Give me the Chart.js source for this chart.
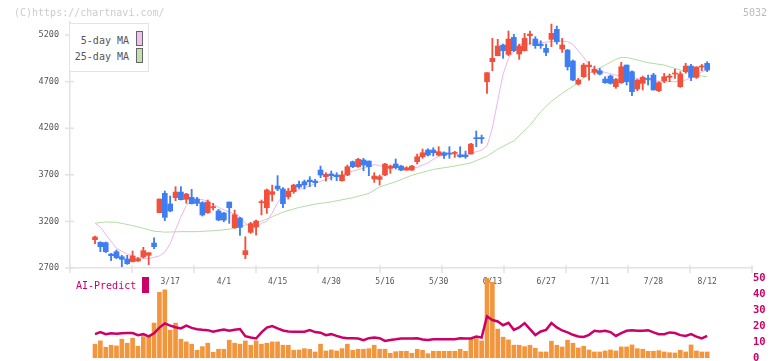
<!DOCTYPE html>
<html>
<head>
<meta charset="utf-8">
<title>5032</title>
<script src="https://cdn.jsdelivr.net/npm/chart.js"></script>
<style>
  body { margin: 0; background: #fff; overflow: hidden; }
  #wrap { position: relative; width: 772px; height: 361px; font-family: 'DejaVu Sans Mono', monospace; }
  canvas { position: absolute; left: 0; top: 0; }
  .txt { position: absolute; font-size: 10px; line-height: 12px; white-space: nowrap; }
  .sw { position: absolute; width: 7px; height: 15px; box-sizing: border-box; border: 1px solid #666; }
</style>
</head>
<body>
<div id="wrap">
  <canvas id="price" width="772" height="361"></canvas>
  <canvas id="sub" width="772" height="361"></canvas>
  <div class="txt" style="left:14px;top:7px;color:#ccc">(C)https://chartnavi.com/</div>
  <div class="txt" style="right:5px;top:7px;color:#bbb">5032</div>
  <div style="position:absolute;left:69px;top:23px;width:80px;height:49px;border:1.5px solid #e4e4e4;box-sizing:border-box;background:#fff"></div>
  <div class="txt" style="right:643px;top:35px;color:#555">5-day MA</div>
  <div class="txt" style="right:643px;top:51px;color:#555">25-day MA</div>
  <div class="sw" style="left:136px;top:31px;background:#f0c0f0"></div>
  <div class="sw" style="left:136px;top:48px;background:#c0e0b0"></div>
  <div class="txt" style="left:76px;top:280px;color:#cc0066">AI-Predict</div>
  <div style="position:absolute;left:142px;top:277px;width:7px;height:16px;background:#cc0066"></div>
</div>
<script>
// trading days, 2025
const dates = ['2/25','2/26','2/27','2/28',
  '3/3','3/4','3/5','3/6','3/7','3/10','3/11','3/12','3/13','3/14','3/17','3/18','3/19','3/21',
  '3/24','3/25','3/26','3/27','3/28','3/31',
  '4/1','4/2','4/3','4/4','4/7','4/8','4/9','4/10','4/11','4/14','4/15','4/16','4/17','4/18',
  '4/21','4/22','4/23','4/24','4/25','4/28','4/30',
  '5/1','5/2','5/7','5/8','5/9','5/12','5/13','5/14','5/15','5/16','5/19','5/20','5/21','5/22','5/23',
  '5/26','5/27','5/28','5/29','5/30',
  '6/2','6/3','6/4','6/5','6/6','6/9','6/10','6/11','6/12','6/13','6/16','6/17','6/18','6/19','6/20',
  '6/23','6/24','6/25','6/26','6/27','6/30',
  '7/1','7/2','7/3','7/4','7/7','7/8','7/9','7/10','7/11','7/14','7/15','7/16','7/17','7/18',
  '7/22','7/23','7/24','7/25','7/28','7/29','7/30','7/31',
  '8/1','8/4','8/5','8/6','8/7','8/8','8/12'];
const tickDates = ['3/17','4/1','4/15','4/30','5/16','5/30','6/13','6/27','7/11','7/28','8/12'];
const priceTicks = [2700, 3200, 3700, 4200, 4700, 5200];

const open = [3004,2975,2972,2850,2875,2821,2796,2768,2775,2818, 2836,2968,3294,3501,3387,3455,3515,3437,3458,3440,
  3401,3294,3347,3312,3290,3408,3133,3236,2843,3083, 3140,3401,3347,3490,3580,3548,3465,3519,3598,3626,
  3644,3633,3751,3680,3709,3698,3637,3698,3841,3787, 3859,3848,3655,3651,3698,3769,3816,3794,3751,3751,
  3841,3894,3966,3966,3912,3937,3930,3930,3912,3912, 3923,4095,4098,4699,4914,4978,5093,4993,5175,4996,
  5032,5193,5157,5103,5057,5154,5261,5050,5039,4921, 4674,4753,4860,4799,4817,4728,4760,4646,4689,4878,
  4807,4621,4681,4735,4771,4603,4710,4746,4782,4646, 4807,4867,4746,4857,4896];
const high = [3043,2982,2979,2857,2893,2836,2836,2882,2811,2922, 2864,3025,3440,3526,3472,3573,3573,3501,3544,3458,
  3412,3430,3394,3329,3297,3408,3322,3244,3036,3190, 3215,3430,3548,3590,3691,3562,3555,3598,3633,3644,
  3680,3651,3794,3723,3741,3723,3741,3805,3848,3877, 3877,3848,3723,3698,3823,3805,3870,3801,3787,3801,
  3923,3977,3980,3991,4002,3948,4002,3952,4002,3955, 4038,4170,4127,4796,5164,5154,5103,5243,5207,5103,
  5218,5243,5182,5139,5103,5318,5297,5164,5046,4932, 4735,4896,4914,4867,4842,4753,4771,4735,4907,4878,
  4817,4724,4760,4771,4789,4699,4789,4782,4835,4807, 4896,4885,4860,4885,4914];
const low = [2961,2875,2864,2779,2800,2714,2739,2764,2771,2807, 2736,2907,3294,3208,3304,3422,3430,3394,3387,3369,
  3258,3286,3322,3208,3197,3179,3126,3050,2800,3072, 3054,3269,3286,3419,3530,3347,3440,3501,3555,3548,
  3573,3573,3669,3633,3644,3637,3633,3691,3777,3780, 3744,3691,3619,3590,3691,3716,3762,3744,3748,3748,
  3816,3877,3902,3902,3902,3877,3877,3887,3887,3877, 3923,4002,4038,4574,4817,4978,4950,4978,5021,4939,
  5028,5103,5057,5057,4978,5075,5103,5014,4824,4710, 4664,4746,4717,4778,4771,4681,4674,4628,4681,4664,
  4549,4603,4610,4664,4610,4592,4689,4699,4735,4638, 4789,4710,4735,4817,4807];
const close = [3033,2929,2875,2832,2811,2793,2746,2829,2800,2886, 2864,2929,3440,3244,3312,3515,3433,3494,3390,3394,
  3269,3408,3358,3215,3215,3347,3272,3136,2886,3176, 3204,3412,3537,3519,3548,3390,3526,3590,3569,3590,
  3626,3616,3698,3705,3691,3680,3698,3787,3787,3866, 3805,3787,3687,3680,3816,3794,3777,3751,3776,3794,
  3894,3937,3912,3937,3948,3909,3923,3937,3894,3894, 4030,4088,4088,4796,4950,5082,5032,5157,5032,5082,
  5164,5211,5086,5086,5014,5218,5128,5093,4860,4717, 4717,4878,4878,4832,4782,4689,4681,4724,4860,4699,
  4592,4717,4746,4724,4610,4689,4753,4760,4789,4782, 4867,4746,4857,4867,4824];

// moving averages (day index -> value)
const ma5Idx = [0,1,2,4,6,8,10,12,13,14, 15,16,17,18,19,21,22,23,25,27, 28,29,30,31,32,33,34,35,36,38,
  40,42,44,46,48,50,52,53,54,56, 57,58,60,62,64,66,68,70,72,73, 74,75,76,77,78,79,81,83,85,86,
  88,89,90,91,92,93,94,95,97,99, 101,103,104,106,108,109,110,112,113,114];
const ma5Val = [3180,3140,3060,2910,2850,2810,2800,2830,2870,2960, 3110,3250,3370,3420,3445,3420,3385,3350,3300,3250,
  3180,3140,3130,3180,3200,3290,3400,3480,3515,3540, 3580,3630,3670,3700,3740,3770,3810,3800,3780,3790,
  3775,3765,3780,3830,3900,3925,3915,3930,3965,4010, 4200,4500,4780,4950,5030,5100,5105,5118,5130,5140,
  5130,5100,5030,4960,4880,4830,4810,4800,4770,4750, 4735,4720,4710,4700,4700,4706,4717,4770,4805,4825];
const ma25Idx = [0,2,4,7,9,11,13,16,19,22, 24,26,28,30,33,35,38,41,44,48, 51,53,56,59,63,67,70,73,75,78,
  81,83,85,87,90,92,95,97,98,99, 101,103,106,108,111,113,114];
const ma25Val = [3180,3195,3190,3155,3126,3095,3085,3090,3090,3100, 3110,3125,3160,3180,3250,3300,3350,3385,3410,3455,
  3500,3570,3625,3695,3758,3794,3828,3900,3975,4065, 4230,4377,4490,4574,4690,4789,4878,4939,4960,4960,
  4932,4903,4878,4842,4789,4760,4753];

// volume (relative units) and AI-Predict score
const volume = [137,170,107,127,120,187,147,197,117,213, 220,347,653,677,277,347,187,160,137,77,
  113,147,57,87,87,177,147,137,170,127, 170,137,147,160,160,127,127,77,80,93,
  87,60,137,70,80,70,93,137,77,87, 87,93,127,87,87,47,63,67,67,47,
  87,77,43,67,67,67,67,67,87,67, 187,193,170,797,753,287,207,180,127,127,
  113,127,97,60,60,167,127,110,177,147, 100,117,80,60,60,70,80,70,110,110,
  130,93,87,67,67,73,60,53,50,77, 60,130,70,60,60];
const aiPredict = [14.9,16.2,14.9,15.5,15.1,15.5,15.6,15.6,14.3,14.9, 13.5,15.5,19.0,21.6,20.2,19.2,18.5,20.2,18.8,18.0,
  17.6,17.4,16.4,17.2,17.8,17.0,17.6,18.1,13.6,12.8, 12.2,16.0,19.0,20.0,18.5,17.2,16.6,16.4,16.4,16.4,
  17.4,16.2,15.8,14.3,14.9,13.8,12.8,12.4,12.4,12.2, 11.1,12.4,12.8,12.4,10.7,11.3,11.7,12.2,12.2,12.2,
  12.4,11.6,11.3,11.7,11.7,11.7,11.7,11.7,12.4,12.2, 12.2,13.4,12.8,26.0,23.7,22.8,20.5,22.0,17.6,19.1,
  21.8,18.1,14.3,16.6,17.6,21.8,19.1,17.2,16.0,14.5, 13.5,13.2,14.5,17.0,16.6,17.0,16.2,13.8,15.6,17.0,
  17.4,17.0,17.0,17.4,16.0,14.9,14.9,16.0,15.6,14.3, 13.8,14.9,13.4,12.2,13.8];

const UP = '#f0503c', DOWN = '#3f7ef0';
const xMin = -4.655, xMax = 122.35;
const axisColor = '#e2e2e2';

Chart.defaults.font.family = "'DejaVu Sans Mono', monospace";
Chart.defaults.animation = false;

const candleColor = close.map((c, i) => c >= open[i] ? UP : DOWN);
const wicks = low.map((l, i) => ({ x: i, y: [l, high[i]] }));
const bodies = open.map((o, i) => ({ x: i, y: [o, close[i]] }));

// small tick marks that cross the axis lines, plus the date labels under the x axis
const axisDecor = {
    id: 'axisDecor',
    afterDraw(chart) {
        const { ctx, chartArea: a } = chart;
        const x = chart.scales.x, y = chart.scales.y;
        ctx.save();
        ctx.strokeStyle = axisColor;
        ctx.lineWidth = 1.5;
        for (let k = 0; k <= 11; k++) {
            const px = x.getPixelForValue(xMin + k * (xMax - xMin) / 11);
            ctx.beginPath(); ctx.moveTo(px, a.bottom - 3); ctx.lineTo(px, a.bottom + 5); ctx.stroke();
        }
        y.ticks.forEach(t => {
            const py = y.getPixelForValue(t.value);
            ctx.beginPath(); ctx.moveTo(a.left - 5, py); ctx.lineTo(a.left + 4, py); ctx.stroke();
        });
        ctx.fillStyle = '#555';
        ctx.font = "8px 'DejaVu Sans Mono'";
        ctx.textAlign = 'center';
        ctx.textBaseline = 'middle';
        tickDates.forEach(d => {
            ctx.fillText(d, x.getPixelForValue(dates.indexOf(d)), a.bottom + 14);
        });
        ctx.restore();
    }
};

new Chart(document.getElementById('price'), {
    type: 'bar',
    data: {
        datasets: [{
            type: 'line',
            label: '25-day MA',
            data: ma25Idx.map((d, k) => ({ x: d, y: ma25Val[k] })),
            borderColor: '#b4dca4',
            borderWidth: 1,
            pointRadius: 0,
            order: 4
        }, {
            type: 'line',
            label: '5-day MA',
            data: ma5Idx.map((d, k) => ({ x: d, y: ma5Val[k] })),
            borderColor: '#ebb6eb',
            borderWidth: 1,
            pointRadius: 0,
            order: 3
        }, {
            label: 'wick',
            data: wicks,
            backgroundColor: candleColor,
            barThickness: 1.2,
            grouped: false,
            order: 2
        }, {
            label: 'body',
            data: bodies,
            backgroundColor: candleColor,
            barThickness: 5,
            minBarLength: 1,
            grouped: false,
            order: 1
        }]
    },
    options: {
        responsive: false,
        layout: { padding: { left: 0, right: 20, top: 22, bottom: 93 } },
        plugins: { legend: { display: false }, tooltip: { enabled: false } },
        scales: {
            x: {
                type: 'linear', min: xMin, max: xMax, offset: false,
                grid: { display: false, drawTicks: false, offset: false },
                border: { display: true, color: axisColor, width: 1.5 },
                ticks: { display: false },
                afterFit: s => { s.height = 0; }
            },
            y: {
                min: 2700, max: 5340,
                grid: { display: false, drawTicks: false },
                border: { display: true, color: axisColor, width: 1.5 },
                ticks: { color: '#555', font: { size: 8.5 }, padding: 11, callback: v => String(v) },
                afterBuildTicks: s => { s.ticks = priceTicks.map(v => ({ value: v })); },
                afterFit: s => { s.width = 70; }
            }
        }
    },
    plugins: [axisDecor]
});

new Chart(document.getElementById('sub'), {
    type: 'bar',
    data: {
        datasets: [{
            type: 'line',
            label: 'AI-Predict',
            data: aiPredict.map((v, i) => ({ x: i, y: v })),
            borderColor: '#cc0066',
            borderWidth: 2.5,
            pointRadius: 0,
            yAxisID: 'ai',
            order: 0
        }, {
            label: 'volume',
            data: volume.map((v, i) => ({ x: i, y: v })),
            backgroundColor: '#f2963e',
            barThickness: 4,
            order: 1
        }]
    },
    options: {
        responsive: false,
        layout: { padding: { left: 70, right: 0, top: 278, bottom: 3 } },
        plugins: { legend: { display: false }, tooltip: { enabled: false } },
        scales: {
            x: { type: 'linear', min: xMin, max: xMax, offset: false, grid: { offset: false }, display: false },
            y: { display: false, min: 0, max: 795 },
            ai: {
                position: 'right', min: 0, max: 50,
                grid: { display: false, drawTicks: false },
                border: { display: false },
                ticks: { stepSize: 10, color: '#cc0066', font: { size: 10.5, weight: 'bold' }, padding: 1 },
                afterFit: s => { s.width = 20; s.paddingTop = 0; s.paddingBottom = 0; }
            }
        }
    }
});
</script>
</body>
</html>
